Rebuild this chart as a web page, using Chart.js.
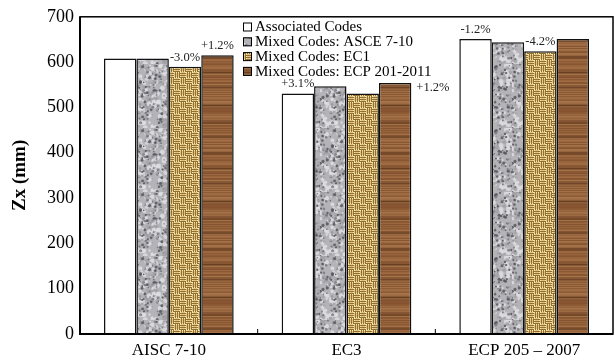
<!DOCTYPE html>
<html>
<head>
<meta charset="utf-8">
<script src="https://cdn.jsdelivr.net/npm/chart.js@4"></script>
<style>
  html, body { margin: 0; padding: 0; background: #fff; }
  #wrap { width: 615px; height: 363px; position: relative; }
</style>
</head>
<body>
<div id="wrap"><canvas id="c" width="615" height="363"></canvas></div>
<script>
// Plastic section modulus Zx (mm) per design code combination
const categories = ['AISC 7-10', 'EC3', 'ECP 205 \u2013 2007'];
const seriesNames = ['Associated Codes', 'Mixed Codes: ASCE 7-10', 'Mixed Codes: EC1', 'Mixed Codes: ECP 201-2011'];
const associatedCodes = [608, 531, 651];
const mixedAsce = [608, 547, 644];
const mixedEc1 = [590, 531, 624];
const mixedEcp201 = [615, 554, 651];
const yTicks = [0, 100, 200, 300, 400, 500, 600, 700];

// Percentage notes: [category index, series index, text, placement]
const notes = [
  [0, 2, '-3.0%', 'top'],
  [0, 3, '+1.2%', 'top'],
  [1, 0, '+3.1%', 'top'],
  [1, 3, '+1.2%', 'right'],
  [2, 0, '-1.2%', 'top'],
  [2, 2, '-4.2%', 'top']
];

// --- fill textures -------------------------------------------------------
function seeded(seed) {
  let s = seed >>> 0;
  return function () {
    s = (s * 1664525 + 1013904223) >>> 0;
    return s / 4294967296;
  };
}

function makeTile(w, h, draw) {
  const cv = document.createElement('canvas');
  cv.width = w; cv.height = h;
  const g = cv.getContext('2d');
  draw(g, w, h);
  return cv;
}

const ctxMain = document.getElementById('c').getContext('2d');

// speckled grey stone
const graniteTile = makeTile(64, 64, (g, w, h) => {
  g.fillStyle = '#b4b4b8';
  g.fillRect(0, 0, w, h);
  const rnd = seeded(7);
  for (let i = 0; i < 320; i++) {
    const x = rnd() * w, y = rnd() * h, r = 0.8 + rnd() * 1.8;
    g.fillStyle = rnd() < 0.55 ? 'rgba(222,222,226,0.85)' : 'rgba(160,160,165,0.8)';
    g.beginPath(); g.arc(x, y, r, 0, Math.PI * 2); g.fill();
  }
  for (let i = 0; i < 200; i++) {
    const x = rnd() * w, y = rnd() * h, r = 0.5 + rnd() * 1.1;
    g.fillStyle = rnd() < 0.6 ? 'rgba(85,85,92,0.85)' : 'rgba(120,120,128,0.85)';
    g.beginPath(); g.arc(x, y, r, 0, Math.PI * 2); g.fill();
  }
});

// woven straw (basket weave, 6px blocks of three strands)
const weaveTile = makeTile(12, 12, (g, w, h) => {
  g.fillStyle = '#93702f';
  g.fillRect(0, 0, w, h);
  const light = '#f6e6b0', mid = '#e0c582';
  function hBlock(bx, by) {
    for (let k = 0; k < 3; k++) {
      g.fillStyle = light; g.fillRect(bx, by + k * 2, 6, 1);
      g.fillStyle = mid; g.fillRect(bx + 1, by + k * 2, 4, 1);
    }
  }
  function vBlock(bx, by) {
    for (let k = 0; k < 3; k++) {
      g.fillStyle = light; g.fillRect(bx + k * 2, by, 1, 6);
      g.fillStyle = mid; g.fillRect(bx + k * 2, by + 1, 1, 4);
    }
  }
  hBlock(0, 0); vBlock(6, 0); vBlock(0, 6); hBlock(6, 6);
});

// horizontal wood grain, soft bands
const woodTile = makeTile(40, 96, (g, w, h) => {
  g.fillStyle = '#93603a';
  g.fillRect(0, 0, w, h);
  const rnd = seeded(31);
  const tones = ['#a47148', '#84532e', '#aa7a4e', '#7a4a28', '#9a673e', '#b08257'];
  for (let y = 0; y < h; y++) {
    g.fillStyle = tones[Math.floor(rnd() * tones.length)];
    g.globalAlpha = 0.35 + rnd() * 0.3;
    g.fillRect(0, y, w, 1);
  }
  g.globalAlpha = 1;
  [9, 26, 40, 57, 72, 87].forEach(yy => {
    g.fillStyle = 'rgba(80,44,20,0.55)';
    g.fillRect(0, yy, w, 1);
    g.fillStyle = 'rgba(80,44,20,0.3)';
    g.fillRect(0, yy + 1, w, 1);
    g.fillRect(0, yy - 1, w, 1);
  });
});

const fills = [
  '#ffffff',
  ctxMain.createPattern(graniteTile, 'repeat'),
  ctxMain.createPattern(weaveTile, 'repeat'),
  ctxMain.createPattern(woodTile, 'repeat')
];
const seriesValues = [associatedCodes, mixedAsce, mixedEc1, mixedEcp201];

const SERIF = '"Liberation Serif", "DejaVu Serif", serif';

// --- plugins -------------------------------------------------------------
const framePlugin = {
  id: 'frame',
  afterDatasetsDraw(chart) {
    const { ctx, chartArea: a, scales } = chart;
    ctx.save();
    ctx.strokeStyle = '#000';
    ctx.lineWidth = 1.5;
    ctx.strokeRect(a.left, a.top, a.right - a.left, a.bottom - a.top);
    ctx.lineWidth = 2;
    ctx.beginPath();
    ctx.moveTo(a.left, a.top); ctx.lineTo(a.left, a.bottom); ctx.lineTo(a.right, a.bottom);
    ctx.stroke();
    // small inward ticks between categories
    ctx.lineWidth = 1;
    const x = scales.x;
    for (let i = 1; i < categories.length; i++) {
      const px = (x.getPixelForValue(i - 1) + x.getPixelForValue(i)) / 2;
      ctx.beginPath(); ctx.moveTo(px, a.bottom); ctx.lineTo(px, a.bottom - 5); ctx.stroke();
    }
    ctx.restore();
  }
};

const notesPlugin = {
  id: 'notes',
  afterDatasetsDraw(chart) {
    const { ctx } = chart;
    ctx.save();
    ctx.font = '12.5px ' + SERIF;
    ctx.fillStyle = '#222';
    notes.forEach(([ci, si, text, place]) => {
      const bar = chart.getDatasetMeta(si).data[ci];
      if (!bar) return;
      if (place === 'top') {
        ctx.textAlign = 'center';
        ctx.textBaseline = 'bottom';
        ctx.fillText(text, bar.x, bar.y - 3);
      } else {
        ctx.textAlign = 'left';
        ctx.textBaseline = 'middle';
        ctx.fillText(text, bar.x + bar.width / 2 + 5, bar.y + 5);
      }
    });
    ctx.restore();
  }
};

const legendPlugin = {
  id: 'boxLegend',
  afterDraw(chart) {
    const { ctx } = chart;
    ctx.save();
    ctx.font = '15px ' + SERIF;
    ctx.textBaseline = 'middle';
    ctx.textAlign = 'left';
    const x0 = 243, y0 = 27, step = 14.8;
    seriesNames.forEach((name, i) => {
      const y = y0 + i * step;
      ctx.fillStyle = fills[i];
      ctx.fillRect(x0, y - 4.5, 9, 9);
      ctx.strokeStyle = '#000';
      ctx.lineWidth = 1;
      ctx.strokeRect(x0 + 0.5, y - 4, 8, 8);
      ctx.fillStyle = '#000';
      ctx.fillText(name, x0 + 12, y + 0.5);
    });
    ctx.restore();
  }
};

// --- chart ---------------------------------------------------------------
new Chart(document.getElementById('c'), {
  type: 'bar',
  data: {
    labels: categories,
    datasets: seriesNames.map((name, i) => ({
      label: name,
      data: seriesValues[i],
      backgroundColor: fills[i],
      borderColor: '#111',
      borderWidth: 1.5,
      categoryPercentage: 0.73,
      barPercentage: 1.0
    }))
  },
  options: {
    responsive: false,
    animation: false,
    layout: { padding: { top: 15, right: 2, left: 9, bottom: 0 } },
    plugins: {
      legend: { display: false },
      tooltip: { enabled: false }
    },
    scales: {
      x: {
        grid: { display: false, drawTicks: false },
        border: { display: false },
        ticks: {
          color: '#000',
          font: { family: SERIF, size: 17 },
          padding: 6,
          maxRotation: 0
        },
        afterFit(scale) { scale.height = 29; }
      },
      y: {
        min: 0,
        max: 700,
        grid: { display: false, drawTicks: false },
        border: { display: false },
        afterBuildTicks(scale) { scale.ticks = yTicks.map(v => ({ value: v })); },
        ticks: {
          color: '#000',
          font: { family: SERIF, size: 18 },
          padding: 6
        },
        title: {
          display: true,
          text: 'Zx (mm)',
          color: '#000',
          font: { family: SERIF, size: 19, weight: 'bold' },
          padding: { top: 0, bottom: 0 }
        },
        afterFit(scale) { scale.width = 71; }
      }
    }
  },
  plugins: [framePlugin, notesPlugin, legendPlugin]
});
</script>
</body>
</html>
